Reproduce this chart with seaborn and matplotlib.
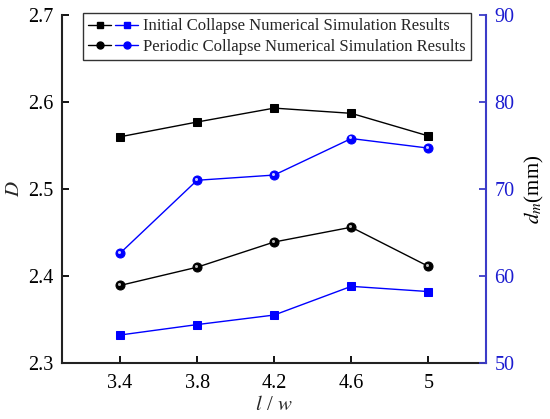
import numpy as np
import pandas as pd
import matplotlib
matplotlib.use('Agg')
import matplotlib.pyplot as plt
import matplotlib.transforms as mtransforms
import seaborn as sns
from matplotlib.lines import Line2D
from matplotlib.legend_handler import HandlerTuple

sns.set_theme(style='ticks')
plt.rcParams['font.family'] = ['Liberation Serif', 'DejaVu Serif']
plt.rcParams['mathtext.fontset'] = 'stix'

# 数据
lw_ratio = [3.4, 3.8, 4.2, 4.6, 5.0]
D_initial = [2.560, 2.577, 2.593, 2.587, 2.561]
D_periodic = [2.389, 2.410, 2.439, 2.456, 2.411]
dm_initial = [53.2, 54.4, 55.5, 58.8, 58.2]
dm_periodic = [62.6, 71.0, 71.6, 75.8, 74.7]
xtick_labels = ['3.4', '3.8', '4.2', '4.6', '5']
labels = ['Initial Collapse Numerical Simulation Results',
          'Periodic Collapse Numerical Simulation Results']

blue = '#0000ff'
axis_blue = '#3c3cc8'

fig, ax = plt.subplots(figsize=(5.5, 4.19), dpi=100)
ax2 = ax.twinx()

df = pd.DataFrame({'x': lw_ratio, 'Di': D_initial, 'Dp': D_periodic,
                   'mi': dm_initial, 'mp': dm_periodic})

sns.lineplot(data=df, x='x', y='Di', ax=ax, color='black', marker='s',
             markersize=6, linewidth=1.0, markeredgecolor='black')
sns.lineplot(data=df, x='x', y='Dp', ax=ax, color='black', marker='o',
             markersize=6.5, linewidth=1.0, markeredgecolor='black')
sns.lineplot(data=df, x='x', y='mi', ax=ax2, color=blue, marker='s',
             markersize=6, linewidth=1.0, markeredgecolor=blue)
sns.lineplot(data=df, x='x', y='mp', ax=ax2, color=blue, marker='o',
             markersize=6.5, linewidth=1.0, markeredgecolor=blue)

# 球形点的高光
for a, ys, c in [(ax, D_periodic, '#bbbbbb'), (ax2, dm_periodic, '#c8c8ff')]:
    tr = mtransforms.offset_copy(a.transData, fig=fig, x=-0.8, y=0.8, units='points')
    a.plot(lw_ratio, ys, linestyle='none', marker='o', markersize=2.2,
           color=c, markeredgewidth=0, transform=tr)

ax.set_xlim(3.1, 5.3)
ax.set_ylim(2.3, 2.7)
ax2.set_ylim(50, 90)
ax.set_xticks(lw_ratio)
ax.set_xticklabels(xtick_labels)
ax.set_yticks([2.3, 2.4, 2.5, 2.6, 2.7])
ax2.set_yticks([50, 60, 70, 80, 90])

ax.set_xlabel('$l$ / $w$', fontsize=15, labelpad=2)
ax.set_ylabel('$D$', fontsize=15, labelpad=3)
ax2.set_ylabel('$d_m$(mm)', fontsize=15, color='black', labelpad=6)

ax.tick_params(axis='both', direction='in', labelsize=14.5, length=5,
               width=1.3, colors='black')
ax.tick_params(axis='x', pad=8)
ax.tick_params(axis='y', pad=6)
ax2.tick_params(axis='y', direction='in', labelsize=14.5, length=5,
                width=1.3, color=axis_blue, labelcolor='#1c1cd0', pad=6)

for a in (ax, ax2):
    a.spines['top'].set_visible(False)
    for s in a.spines.values():
        s.set_linewidth(1.5)
ax.spines['right'].set_visible(False)
ax2.spines['left'].set_visible(False)
ax2.spines['bottom'].set_visible(False)
ax2.spines['right'].set_color(axis_blue)
ax.spines['left'].set_color('#222222')
ax.spines['bottom'].set_color('#222222')

h1 = (Line2D([], [], color='black', marker='s', markersize=5, linewidth=1.0),
      Line2D([], [], color=blue, marker='s', markersize=5, linewidth=1.0))
h2 = (Line2D([], [], color='black', marker='o', markersize=5, linewidth=1.0),
      Line2D([], [], color=blue, marker='o', markersize=5, linewidth=1.0))
leg = ax.legend([h1, h2], labels,
                handler_map={tuple: HandlerTuple(ndivide=None, pad=0.25)},
                loc='upper left', bbox_to_anchor=(0.05, 1.005), fontsize=12,
                frameon=True, fancybox=False, edgecolor='black',
                handlelength=3.0, handletextpad=0.3, borderpad=0.3,
                labelspacing=0.25, borderaxespad=0.0)
leg.get_frame().set_linewidth(1.0)

fig.subplots_adjust(left=0.113, right=0.884, top=0.964, bottom=0.134)
fig.savefig('out.png', dpi=100)
